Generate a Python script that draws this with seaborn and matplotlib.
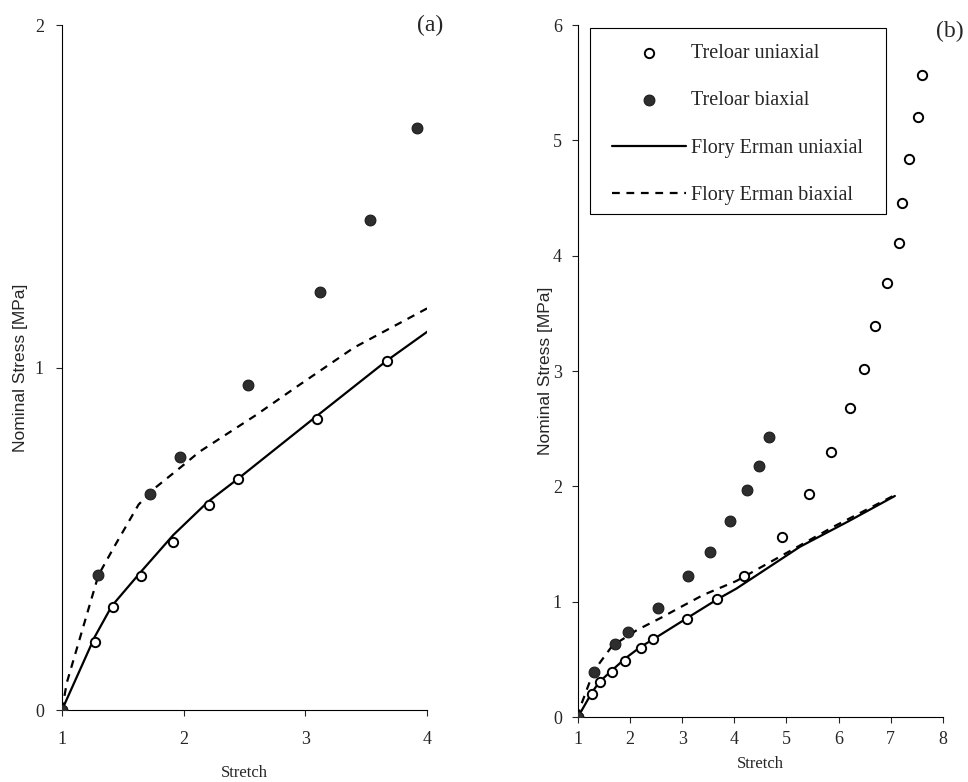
import matplotlib
matplotlib.use("Agg")
import matplotlib.pyplot as plt
from matplotlib.patches import Rectangle
import numpy as np
import pandas as pd
import seaborn as sns

sns.set_style("white")
plt.rcParams["font.family"] = ["Liberation Serif", "DejaVu Serif"]

uni_stretch = [1.0, 1.27, 1.42, 1.65, 1.91, 2.21, 2.45, 3.1, 3.67, 4.18, 4.91, 5.44,
               5.86, 6.22, 6.49, 6.70, 6.93, 7.16, 7.21, 7.35, 7.53, 7.61]
uni_stress = [0.0, 0.20, 0.30, 0.39, 0.49, 0.60, 0.675, 0.85, 1.02, 1.22, 1.56, 1.93,
              2.30, 2.68, 3.02, 3.39, 3.76, 4.11, 4.46, 4.84, 5.20, 5.57]
bi_stretch = [1.0, 1.30, 1.72, 1.97, 2.53, 3.12, 3.53, 3.92, 4.24, 4.48, 4.66]
bi_stress = [0.0, 0.395, 0.63, 0.74, 0.95, 1.22, 1.43, 1.70, 1.97, 2.18, 2.43]

# Flory Erman model curves
fe_uni_stretch = [1.0, 1.27, 1.41, 1.65, 1.915, 2.2, 2.45, 3.1, 3.67, 4.04, 5.26, 6.2, 7.08]
fe_uni_stress = [0.0, 0.214, 0.304, 0.404, 0.511, 0.608, 0.676, 0.86, 1.02, 1.114, 1.477, 1.70, 1.917]
fe_bi_stretch = [1.0, 1.04, 1.30, 1.43, 1.63, 1.76, 1.98, 2.13, 2.59, 2.93, 3.40, 4.04, 5.90, 7.08]
fe_bi_stress = [0.0, 0.08, 0.394, 0.477, 0.60, 0.647, 0.71, 0.754, 0.86, 0.944, 1.058, 1.18, 1.65, 1.925]

uni = pd.DataFrame({"Stretch": uni_stretch, "Stress": uni_stress})
bi = pd.DataFrame({"Stretch": bi_stretch, "Stress": bi_stress})
fe_uni = pd.DataFrame({"Stretch": fe_uni_stretch, "Stress": fe_uni_stress})
fe_bi = pd.DataFrame({"Stretch": fe_bi_stretch, "Stress": fe_bi_stress})

sans = ["Liberation Sans", "DejaVu Sans"]


def draw_panel(ax, xmax, ymax, xticks, yticks, xpad, ypad, xlabpad, ylabpad):
    sns.lineplot(data=fe_uni, x="Stretch", y="Stress", ax=ax, color="black",
                 lw=1.6, estimator=None, label="Flory Erman uniaxial")
    sns.lineplot(data=fe_bi, x="Stretch", y="Stress", ax=ax, color="black",
                 lw=1.6, estimator=None, linestyle=(0, (3.5, 3)), label="Flory Erman biaxial")
    sns.scatterplot(data=uni, x="Stretch", y="Stress", ax=ax, marker="o", s=45,
                    facecolor="white", edgecolor="black", linewidth=1.4,
                    label="Treloar uniaxial", zorder=3)
    sns.scatterplot(data=bi, x="Stretch", y="Stress", ax=ax, marker="o", s=60,
                    color="#2e2e2e", edgecolor="#1a1a1a", linewidth=0.8,
                    label="Treloar biaxial", zorder=3)
    ax.set_xlim(1, xmax)
    ax.set_ylim(0, ymax)
    ax.set_xticks(xticks)
    ax.set_yticks(yticks)
    ax.tick_params(axis="both", direction="out", length=4, width=0.8, labelsize=13,
                   left=True, bottom=True)
    ax.tick_params(axis="x", pad=xpad)
    ax.tick_params(axis="y", pad=ypad)
    ax.set_xlabel("Stretch", fontsize=12, labelpad=xlabpad)
    ax.set_ylabel("Nominal Stress [MPa]", fontsize=12.5, family=sans, labelpad=ylabpad)
    for sp in ["left", "bottom"]:
        ax.spines[sp].set_linewidth(0.8)
        ax.spines[sp].set_color("black")
    sns.despine(ax=ax)


fig = plt.figure(figsize=(9.68, 7.82), dpi=100)
ax1 = fig.add_axes([0.064, 0.092, 0.377, 0.876])
ax2 = fig.add_axes([0.597, 0.083, 0.377, 0.885])

draw_panel(ax1, 4, 2, [1, 2, 3, 4], [0, 1, 2], xpad=11, ypad=9, xlabpad=12, ylabpad=5)
ax1.get_legend().remove()
ax1.text(1.008, 1.0, "(a)", transform=ax1.transAxes, fontsize=17, ha="center", va="center")

draw_panel(ax2, 8, 6, [1, 2, 3, 4, 5, 6, 7, 8], [0, 1, 2, 3, 4, 5, 6],
           xpad=6, ypad=7.5, xlabpad=6, ylabpad=0)
handles, labels = ax2.get_legend_handles_labels()
order = [labels.index(l) for l in ["Treloar uniaxial", "Treloar biaxial",
                                   "Flory Erman uniaxial", "Flory Erman biaxial"]]
leg = ax2.legend([handles[i] for i in order], [labels[i] for i in order],
                 loc="upper left", bbox_to_anchor=(0.055, 0.993), borderaxespad=0,
                 fontsize=14.5, frameon=False, handlelength=3.65, labelspacing=1.4,
                 borderpad=0.7, handletextpad=0.25)
# square legend box, wider than the legend content as in the original
ax2.add_patch(Rectangle((0.033, 0.727), 0.811, 0.269, transform=ax2.transAxes,
                        facecolor="white", edgecolor="black", lw=0.8, zorder=4))
leg.set_zorder(5)
ax2.text(1.019, 0.99, "(b)", transform=ax2.transAxes, fontsize=17, ha="center", va="center")

fig.savefig("out.png", dpi=100)
